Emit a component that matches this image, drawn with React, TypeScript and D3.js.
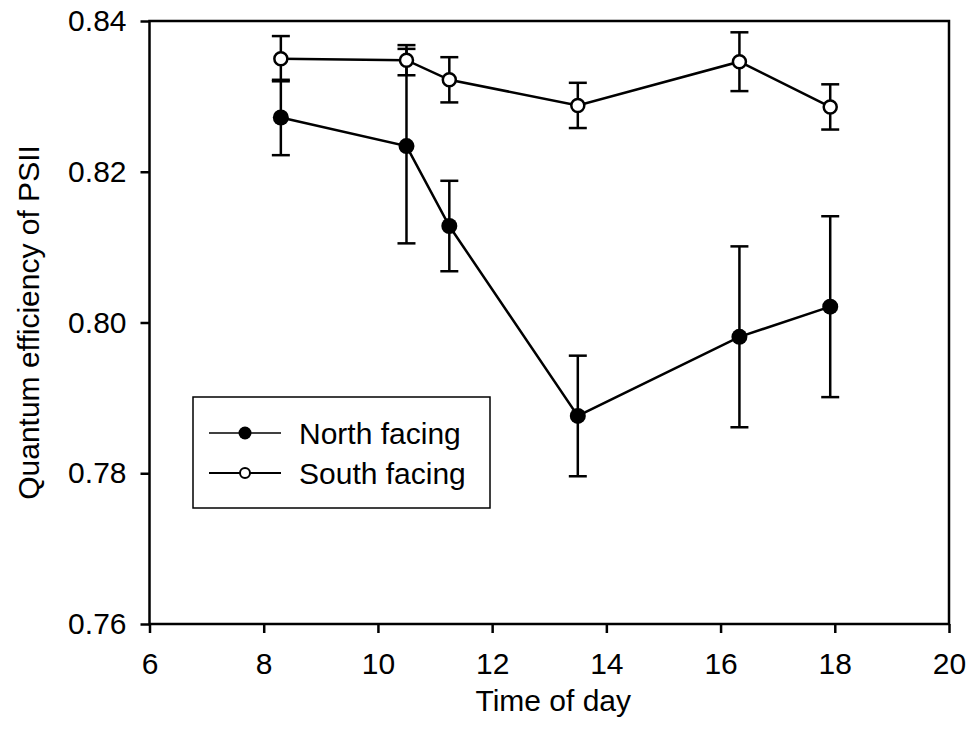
import React, { useEffect, useRef } from 'react';
import * as d3 from 'd3';

// time of day (h)
const times = [8.3, 10.5, 11.25, 13.5, 16.33, 17.92];
const northMean = [0.8272, 0.8234, 0.8128, 0.7876, 0.7981, 0.8021];
const northErr = [0.005, 0.0129, 0.006, 0.008, 0.012, 0.012];
const southMean = [0.835, 0.8348, 0.8322, 0.8288, 0.8346, 0.8286];
const southErr = [0.003, 0.002, 0.003, 0.003, 0.0039, 0.003];
const xTicks = [6, 8, 10, 12, 14, 16, 18, 20];
const yTicks = [0.76, 0.78, 0.8, 0.82, 0.84];
const seriesNames = ['North facing', 'South facing'];

const FONT = 'Arial, "Liberation Sans", Helvetica, sans-serif';

interface Pt { t: number; v: number; e: number; }

export default function App() {
  const ref = useRef<SVGSVGElement>(null);

  useEffect(() => {
    const svg = d3.select(ref.current);
    svg.selectAll('*').remove();

    const left = 149.5, right = 949, top = 21, bottom = 624;

    const x = d3.scaleLinear().domain([6, 20]).range([left, right]);
    const y = d3.scaleLinear().domain([0.76, 0.84]).range([bottom, top]);

    // frame
    svg.append('rect')
      .attr('x', left).attr('y', top)
      .attr('width', right - left).attr('height', bottom - top)
      .attr('fill', 'none').attr('stroke', '#000').attr('stroke-width', 2.5);

    const yAxis = svg.append('g')
      .attr('transform', `translate(${left},0)`)
      .call(d3.axisLeft(y).tickValues(yTicks).tickSize(9).tickSizeOuter(0).tickPadding(14)
        .tickFormat(d3.format('.2f')));
    yAxis.select('.domain').remove();
    yAxis.selectAll('line').attr('stroke-width', 2.5);
    yAxis.selectAll('text')
      .style('font-family', FONT).style('font-size', '30px').attr('fill', '#000');

    const xAxis = svg.append('g')
      .attr('transform', `translate(0,${bottom})`)
      .call(d3.axisBottom(x).tickValues(xTicks).tickSize(9).tickSizeOuter(0).tickPadding(20)
        .tickFormat(d3.format('d')));
    xAxis.select('.domain').remove();
    xAxis.selectAll('line').attr('stroke-width', 2.5);
    xAxis.selectAll('text')
      .style('font-family', FONT).style('font-size', '30px').attr('fill', '#000');

    // axis titles
    svg.append('text')
      .attr('x', (left + right) / 2 + 4)
      .attr('y', 711)
      .attr('text-anchor', 'middle')
      .style('font-family', FONT).style('font-size', '30px')
      .text('Time of day');

    svg.append('text')
      .attr('transform', `translate(39,${(top + bottom) / 2}) rotate(-90)`)
      .attr('text-anchor', 'middle')
      .style('font-family', FONT).style('font-size', '30px')
      .text('Quantum efficiency of PSII');

    const drawSeries = (data: Pt[], filled: boolean) => {
      const g = svg.append('g');
      // error bars
      data.forEach(d => {
        const cx = x(d.t);
        g.append('line')
          .attr('x1', cx).attr('x2', cx)
          .attr('y1', y(d.v - d.e)).attr('y2', y(d.v + d.e))
          .attr('stroke', '#000').attr('stroke-width', 2.5);
        [d.v - d.e, d.v + d.e].forEach(v => {
          g.append('line')
            .attr('x1', cx - 9).attr('x2', cx + 9)
            .attr('y1', y(v)).attr('y2', y(v))
            .attr('stroke', '#000').attr('stroke-width', 2.5);
        });
      });

      const line = d3.line<Pt>().x(d => x(d.t)).y(d => y(d.v));
      g.append('path')
        .datum(data)
        .attr('fill', 'none')
        .attr('stroke', '#000')
        .attr('stroke-width', 2.5)
        .attr('d', line);

      g.selectAll('circle')
        .data(data)
        .enter()
        .append('circle')
        .attr('cx', d => x(d.t))
        .attr('cy', d => y(d.v))
        .attr('r', filled ? 8 : 6.5)
        .attr('fill', filled ? '#000' : '#fff')
        .attr('stroke', '#000')
        .attr('stroke-width', filled ? 0 : 2.5);
    };

    const north = times.map((t, i) => ({ t, v: northMean[i], e: northErr[i] }));
    const south = times.map((t, i) => ({ t, v: southMean[i], e: southErr[i] }));
    drawSeries(north, true);
    drawSeries(south, false);

    // legend
    const lg = svg.append('g');
    lg.append('rect')
      .attr('x', 193).attr('y', 397)
      .attr('width', 297).attr('height', 111)
      .attr('fill', '#fff').attr('stroke', '#000').attr('stroke-width', 1.5);
    seriesNames.forEach((name, i) => {
      const cy = 433 + i * 40;
      lg.append('line')
        .attr('x1', 209).attr('x2', 281)
        .attr('y1', cy).attr('y2', cy)
        .attr('stroke', '#000').attr('stroke-width', i === 0 ? 1.5 : 2);
      lg.append('circle')
        .attr('cx', 245).attr('cy', cy)
        .attr('r', i === 0 ? 6.5 : 5)
        .attr('fill', i === 0 ? '#000' : '#fff')
        .attr('stroke', '#000').attr('stroke-width', i === 0 ? 0 : 2);
      lg.append('text')
        .attr('x', 299).attr('y', cy + 11)
        .style('font-family', FONT).style('font-size', '30px')
        .text(name);
    });
  }, []);

  return (
    <svg
      ref={ref}
      width={971}
      height={742}
      style={{ position: 'absolute', left: 0, top: 0, background: '#fff' }}
    />
  );
}
